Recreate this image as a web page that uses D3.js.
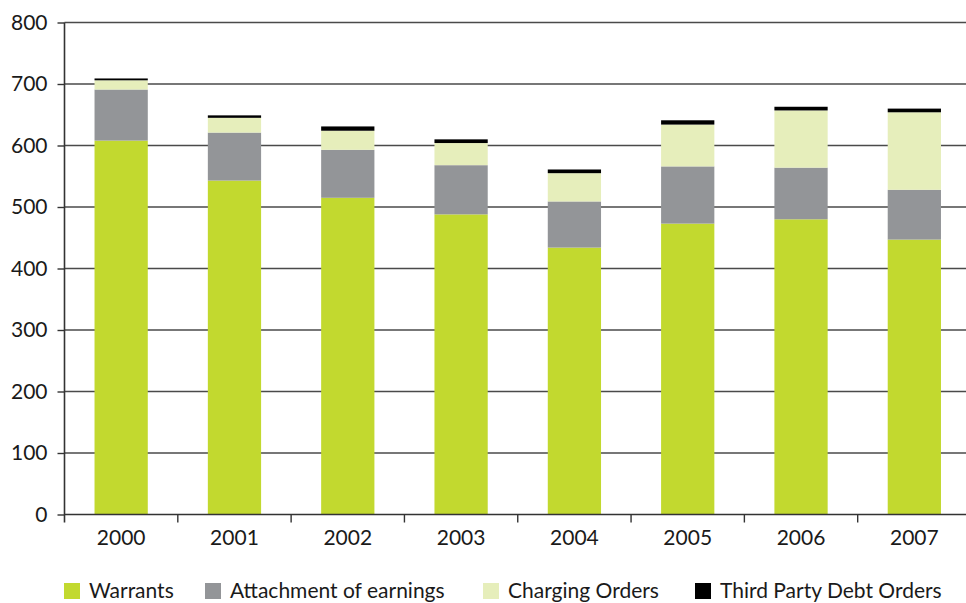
<!DOCTYPE html>
<html><head><meta charset="utf-8">
<script src="https://cdn.jsdelivr.net/npm/d3@7"></script>
<style>
html,body{margin:0;padding:0;background:#fff;}
svg text{font-family:Lato, "Noto Sans", sans-serif;fill:#1a1a1a;font-weight:400;}
</style></head>
<body><svg id="c" width="966" height="603"></svg>
<script>
const years = ["2000","2001","2002","2003","2004","2005","2006","2007"];
const warrants = [608,543,515,488,434,473,480,447];
const attachment = [83,78,78,80,75,93,84,81];
const charging = [15,24,31,36,46,68,93,126];
const thirdParty = [3,4,7,6,6,7,6,6];
const seriesNames = ["Warrants","Attachment of earnings","Charging Orders","Third Party Debt Orders"];
const seriesColors = ["#c2d92f","#939598","#e6eebb","#000000"];
const yTicks = [0,100,200,300,400,500,600,700,800];

(function(){
const svg = d3.select("#c");
const mLeft = 64.5, mRight = 971, mTop = 22.5, mBottom = 514.5;
const fs = 21;
const x = d3.scaleBand().domain(years).range([mLeft,mRight]).paddingInner(0.53).paddingOuter(0.265);
const y = d3.scaleLinear().domain([0,800]).range([mBottom,mTop]);

// gridlines
svg.append("g").selectAll("line").data(yTicks.filter(d=>d>0)).join("line")
  .attr("x1",mLeft).attr("x2",966).attr("y1",d=>y(d)).attr("y2",d=>y(d))
  .attr("stroke","#4a4a4a").attr("stroke-width",1.4);

const rows = years.map((yr,i)=>({year:yr, s0:warrants[i], s1:attachment[i], s2:charging[i], s3:thirdParty[i]}));
const stack = d3.stack().keys(["s0","s1","s2","s3"])(rows);
svg.append("g").selectAll("g").data(stack).join("g")
  .attr("fill",(d,i)=>seriesColors[i])
  .selectAll("rect").data(d=>d).join("rect")
  .attr("x",d=>x(d.data.year)).attr("width",x.bandwidth())
  .attr("y",d=>y(d[1])).attr("height",d=>y(d[0])-y(d[1]));

// y axis
const ya = svg.append("g").attr("transform",`translate(${mLeft},0)`)
  .call(d3.axisLeft(y).tickValues(yTicks).tickSize(7).tickPadding(10));
ya.select(".domain").remove();
ya.selectAll("line").attr("stroke","#333").attr("stroke-width",1.4);
ya.selectAll("text").attr("font-size",fs).attr("fill","#1a1a1a");
svg.append("line").attr("x1",mLeft).attr("x2",mLeft).attr("y1",mTop).attr("y2",mBottom+8)
  .attr("stroke","#333").attr("stroke-width",1.6);

// x axis
svg.append("line").attr("x1",mLeft).attr("x2",966).attr("y1",mBottom).attr("y2",mBottom)
  .attr("stroke","#333").attr("stroke-width",1.6);
const bounds = years.map(yr=>x(yr)-x.step()*x.paddingInner()/2).concat([mRight]);
svg.append("g").selectAll("line").data(bounds.slice(1)).join("line")
  .attr("x1",d=>d).attr("x2",d=>d).attr("y1",mBottom).attr("y2",mBottom+8)
  .attr("stroke","#333").attr("stroke-width",1.4);
svg.append("g").selectAll("text").data(years).join("text")
  .attr("x",d=>x(d)+x.bandwidth()/2).attr("y",545).attr("text-anchor","middle")
  .attr("font-size",fs).text(d=>d);

// legend
const legX = [64,205,483,695];
const leg = svg.append("g").selectAll("g").data(seriesNames).join("g")
  .attr("transform",(d,i)=>`translate(${legX[i]},583)`);
leg.append("rect").attr("width",16).attr("height",16).attr("fill",(d,i)=>seriesColors[i]);
leg.append("text").attr("x",25).attr("y",15).attr("font-size",fs).text(d=>d);
})();
</script></body></html>
